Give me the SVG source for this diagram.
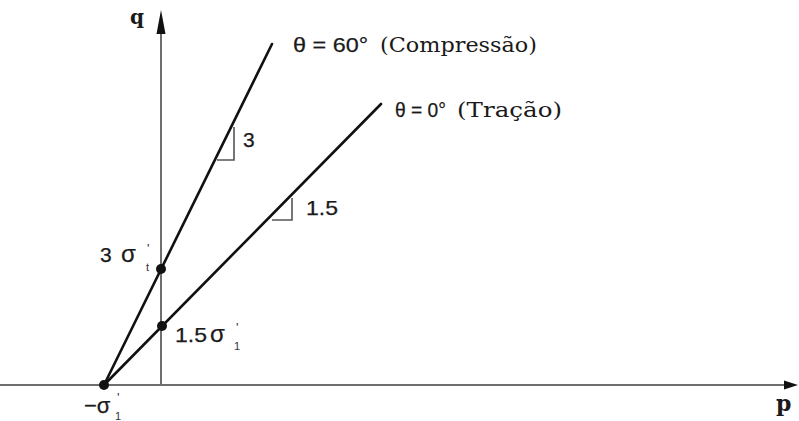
<svg xmlns="http://www.w3.org/2000/svg" width="799" height="421" viewBox="0 0 799 421">
<style>
.axis{stroke:#6e6e6e;stroke-width:2;fill:none}
.ln{stroke:#111;stroke-width:2.6;fill:none;stroke-linecap:round}
.tri{stroke:#555;stroke-width:1.6;fill:none}
.ah{fill:#111}
.dot{fill:#111}
.s{font-family:"Liberation Sans",Arial,sans-serif;fill:#1a1a1a;stroke:#1a1a1a;stroke-width:0.25}
.r{font-family:"DejaVu Serif","Liberation Serif",serif;fill:#1a1a1a}
.sm{font-family:"Liberation Sans",Arial,sans-serif;fill:#333}
</style>
<rect width="799" height="421" fill="#fff"/>
<g id="axes">
<line class="axis" x1="161" y1="385" x2="161" y2="30"/>
<polygon class="ah" points="161,10 156.5,34 165.5,34"/>
<line class="axis" x1="0" y1="385" x2="786" y2="385"/>
<polygon class="ah" points="798,385 784,380.5 784,389.5"/>
<text class="r" x="130" y="24" font-size="20" font-weight="bold">q</text>
<text class="r" x="776" y="411" font-size="22" font-weight="bold">p</text>
</g>
<g id="connectors">
<line class="ln" x1="104" y1="385" x2="272" y2="44"/>
<line class="ln" x1="104" y1="385" x2="381" y2="104"/>
</g>
<g id="slope-60">
<polyline class="tri" points="234,127 234,160 217,160"/>
<text class="s" x="243" y="147" font-size="21">3</text>
</g>
<g id="slope-0">
<polyline class="tri" points="292,198 292,220 272,220"/>
<text class="s" x="306" y="215" font-size="21" textLength="32" lengthAdjust="spacingAndGlyphs">1.5</text>
</g>
<g id="label-60">
<text class="s" x="293" y="52" font-size="21" textLength="75" lengthAdjust="spacingAndGlyphs" stroke-width="0.15">θ = 60°</text>
<text class="r" x="380" y="52" font-size="21" textLength="157" lengthAdjust="spacingAndGlyphs">(Compressão)</text>
</g>
<g id="label-0">
<text class="s" x="395" y="117" font-size="21" textLength="51" lengthAdjust="spacingAndGlyphs" stroke-width="0.15">θ = 0°</text>
<text class="r" x="457" y="117" font-size="21" textLength="105" lengthAdjust="spacingAndGlyphs">(Tração)</text>
</g>
<g id="point-3">
<circle class="dot" cx="161" cy="269" r="5"/>
<text class="s" x="100" y="262" font-size="21">3</text>
<text class="s" x="121" y="262" font-size="24">σ</text>
<text class="sm" x="147" y="253" font-size="13">'</text>
<text class="sm" x="146" y="271" font-size="11">t</text>
</g>
<g id="point-15">
<circle class="dot" cx="162" cy="326" r="5"/>
<text class="s" x="175" y="342" font-size="21" textLength="32" lengthAdjust="spacingAndGlyphs">1.5</text>
<text class="s" x="210" y="342" font-size="24">σ</text>
<text class="sm" x="236" y="332" font-size="13">'</text>
<text class="sm" x="234" y="350" font-size="11">1</text>
</g>
<g id="point-origin">
<circle class="dot" cx="104" cy="385" r="5"/>
<text class="s" x="84" y="413" font-size="22">−σ</text>
<text class="sm" x="117" y="402" font-size="13">'</text>
<text class="sm" x="115" y="420" font-size="11">1</text>
</g>
</svg>
